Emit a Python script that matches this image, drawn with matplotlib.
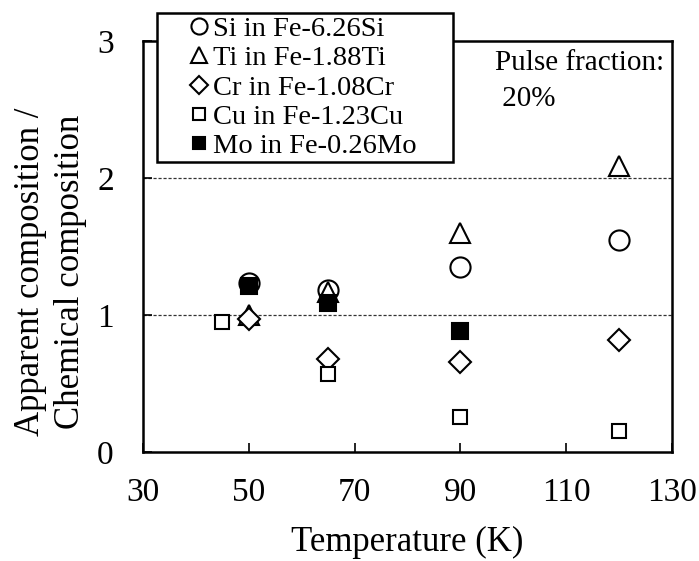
import matplotlib.pyplot as plt
from matplotlib.patches import Rectangle

plt.rcParams["font.family"] = ["Liberation Serif", "DejaVu Serif"]

# apparent / chemical composition ratios vs. temperature (K)
t_si = [50, 65, 90, 120]
si = [1.23, 1.18, 1.35, 1.55]
t_ti = [50, 65, 90, 120]
ti = [1.00, 1.17, 1.60, 2.09]
t_cr = [50, 65, 90, 120]
cr = [0.97, 0.68, 0.66, 0.82]
t_cu = [45, 65, 90, 120]
cu = [0.95, 0.57, 0.255, 0.15]
t_mo = [50, 65, 90]
mo = [1.21, 1.09, 0.88]

W, H = 699, 561
fig = plt.figure(figsize=(W / 100, H / 100), dpi=100)
ax = fig.add_axes([143 / W, 1 - 452 / H, (672 - 143) / W, (452 - 41) / H])

ax.plot(t_si, si, "o", ms=14.5, mfc="white", mec="black", mew=1.5, ls="none",
        label="Si in Fe-6.26Si", zorder=3)
ax.plot(t_ti, ti, "^", ms=15, mfc="white", mec="black", mew=1.5, ls="none",
        label="Ti in Fe-1.88Ti", zorder=3)
ax.plot(t_cr, cr, "D", ms=11, mfc="white", mec="black", mew=1.5, ls="none",
        label="Cr in Fe-1.08Cr", zorder=3)
ax.plot(t_cu, cu, "s", ms=10.5, mfc="white", mec="black", mew=1.5, ls="none",
        label="Cu in Fe-1.23Cu", zorder=3)
ax.plot(t_mo, mo, "s", ms=11, mfc="black", mec="black", mew=1.5, ls="none",
        label="Mo in Fe-0.26Mo", zorder=4)

for yv in (1, 2):
    ax.axhline(yv, color="#333333", lw=0.9, ls=(0, (2.5, 1.5)), zorder=1)

ax.set_xlim(30, 130)
ax.set_ylim(0, 3)
ax.set_xticks([30, 50, 70, 90, 110, 130])
ax.set_yticks([0, 1, 2, 3])
ax.tick_params(direction="in", labelsize=24, width=1.2, length=6.5)
ax.tick_params(axis="x", pad=18.5)
ax.tick_params(axis="y", pad=21)
for sp in ax.spines.values():
    sp.set_linewidth(1.8)

ax.set_xlabel("Temperature (K)", fontsize=25, labelpad=13)
ax.set_ylabel("Apparent composition /\nChemical composition", fontsize=25,
              linespacing=1.3)
ax.yaxis.set_label_coords(-0.105, 0.438)

ax.text((495 - 143) / 529, (452 - 50) / 411, "Pulse fraction:\n 20%",
        transform=ax.transAxes, ha="left", va="top", fontsize=21,
        linespacing=1.5)

# legend box drawn separately so it can be wider than its contents
fig.patches.append(Rectangle((157 / W, 1 - 162 / H), (453 - 157) / W,
                             (162 - 13) / H, transform=fig.transFigure,
                             facecolor="white", edgecolor="black", lw=1.8,
                             zorder=5))
leg = fig.legend(loc="upper left", bbox_to_anchor=(190 / W, 1 - 16 / H),
                 fontsize=20.5, frameon=False, handlelength=0.6,
                 handletextpad=0.2, labelspacing=0.12, borderpad=0,
                 markerscale=0.8, borderaxespad=0)
leg.set_zorder(6)

fig.savefig("out.png", dpi=100)
plt.close()
